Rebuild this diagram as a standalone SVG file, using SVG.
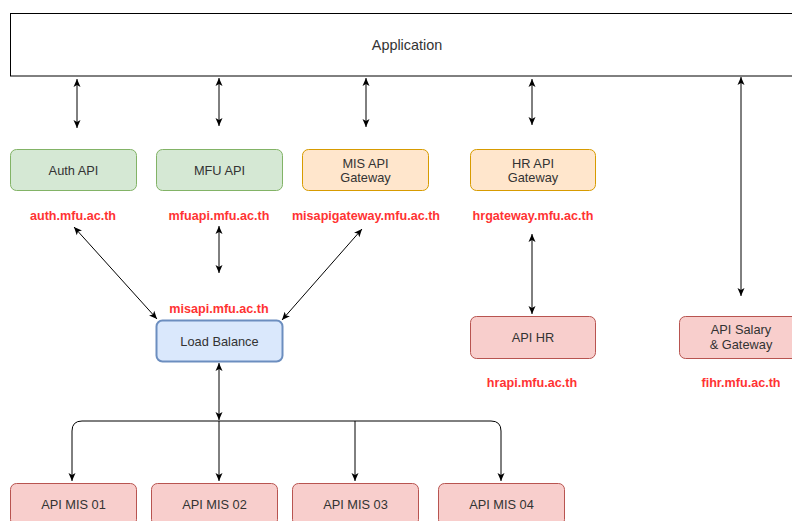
<svg xmlns="http://www.w3.org/2000/svg" width="792" height="521" viewBox="0 0 792 521">
<style>
  .node text, text { font-family: "Liberation Sans", Arial, sans-serif; }
  .lbl { font-size: 12.8px; fill: #333333; text-anchor: middle; }
  .app { font-size: 14.4px; }
  .url { font-size: 12.6px; font-weight: bold; fill: #FF3333; text-anchor: middle; }
  .green { fill: #d5e8d4; stroke: #82b366; stroke-width: 1; }
  .orange { fill: #ffe6cc; stroke: #d79b00; stroke-width: 1; }
  .red { fill: #f8cecc; stroke: #b85450; stroke-width: 1; }
  .blue { fill: #dae8fc; stroke: #6c8ebf; stroke-width: 2; }
  .edge { fill: none; stroke: #000000; stroke-width: 1; }
</style>
<defs>
  <marker id="ah" markerUnits="userSpaceOnUse" markerWidth="10" markerHeight="10" viewBox="0 0 10 10" refX="9" refY="5" orient="auto-start-reverse">
    <path d="M1,1.5 L9,5 L1,8.5 L3,5 Z" fill="#000"/>
  </marker>
</defs>
<rect width="792" height="521" fill="#ffffff"/>

<g id="application" class="node">
  <rect x="10.5" y="13.5" width="793" height="62.5" fill="#ffffff" stroke="#000000" stroke-width="1"/>
  <text class="lbl app" x="407" y="50">Application</text>
</g>

<g id="connectors">
  <line class="edge" x1="77" y1="79" x2="77" y2="128" marker-start="url(#ah)" marker-end="url(#ah)"/>
  <line class="edge" x1="219" y1="78" x2="219" y2="126" marker-start="url(#ah)" marker-end="url(#ah)"/>
  <line class="edge" x1="366" y1="78" x2="366" y2="127" marker-start="url(#ah)" marker-end="url(#ah)"/>
  <line class="edge" x1="532" y1="79" x2="532" y2="125" marker-start="url(#ah)" marker-end="url(#ah)"/>
  <line class="edge" x1="741" y1="77" x2="741" y2="296" marker-start="url(#ah)" marker-end="url(#ah)"/>
  <line class="edge" x1="74" y1="227" x2="157" y2="319" marker-start="url(#ah)" marker-end="url(#ah)"/>
  <line class="edge" x1="219" y1="226" x2="219" y2="273" marker-start="url(#ah)" marker-end="url(#ah)"/>
  <line class="edge" x1="362" y1="229" x2="282" y2="320" marker-start="url(#ah)" marker-end="url(#ah)"/>
  <line class="edge" x1="532" y1="234" x2="532" y2="314" marker-start="url(#ah)" marker-end="url(#ah)"/>
  <line class="edge" x1="219" y1="363" x2="219" y2="420" marker-start="url(#ah)" marker-end="url(#ah)"/>
  <path class="edge" stroke="#555" d="M219,421 H82 Q72,421 72,431 V481" marker-end="url(#ah)"/>
  <path class="edge" stroke="#555" d="M219,421 H491 Q501,421 501,431 V481" marker-end="url(#ah)"/>
  <line class="edge" x1="219" y1="421" x2="219" y2="481" marker-end="url(#ah)"/>
  <line class="edge" x1="355" y1="421" x2="355" y2="481" marker-end="url(#ah)"/>
</g>

<g id="auth-api" class="node">
  <rect class="green" x="10.5" y="149.5" width="126" height="41" rx="6"/>
  <text class="lbl" x="73.5" y="174.5">Auth API</text>
</g>
<g id="mfu-api" class="node">
  <rect class="green" x="156.5" y="149.5" width="126" height="41" rx="6"/>
  <text class="lbl" x="219.5" y="174.5">MFU API</text>
</g>
<g id="mis-api-gateway" class="node">
  <rect class="orange" x="302.5" y="149.5" width="126" height="41" rx="6"/>
  <text class="lbl" x="365.5" y="167.5">MIS API</text>
  <text class="lbl" x="365.5" y="182">Gateway</text>
</g>
<g id="hr-api-gateway" class="node">
  <rect class="orange" x="470.5" y="149.5" width="125" height="41" rx="6"/>
  <text class="lbl" x="533" y="167.5">HR API</text>
  <text class="lbl" x="533" y="182">Gateway</text>
</g>

<g id="url-labels">
  <text class="url" x="73" y="219.5">auth.mfu.ac.th</text>
  <text class="url" x="219" y="219.5">mfuapi.mfu.ac.th</text>
  <text class="url" x="366" y="219.5">misapigateway.mfu.ac.th</text>
  <text class="url" x="533" y="219.5">hrgateway.mfu.ac.th</text>
  <text class="url" x="219" y="312.5">misapi.mfu.ac.th</text>
  <text class="url" x="532" y="386.5">hrapi.mfu.ac.th</text>
  <text class="url" x="741" y="386.5">fihr.mfu.ac.th</text>
</g>

<g id="load-balance" class="node">
  <rect class="blue" x="156.5" y="320.5" width="126" height="41" rx="6"/>
  <text class="lbl" x="219.5" y="345.5">Load Balance</text>
</g>
<g id="api-hr" class="node">
  <rect class="red" x="470.5" y="316.5" width="125" height="42" rx="6"/>
  <text class="lbl" x="533" y="341.5">API HR</text>
</g>
<g id="api-salary" class="node">
  <rect class="red" x="679.5" y="316.5" width="126" height="42" rx="6"/>
  <text class="lbl" x="741" y="334">API Salary</text>
  <text class="lbl" x="741" y="348.5">&amp; Gateway</text>
</g>
<g id="api-mis-01" class="node">
  <rect class="red" x="10.5" y="483.5" width="126" height="42" rx="6"/>
  <text class="lbl" x="73.5" y="508.5">API MIS 01</text>
</g>
<g id="api-mis-02" class="node">
  <rect class="red" x="151.5" y="483.5" width="126" height="42" rx="6"/>
  <text class="lbl" x="214.5" y="508.5">API MIS 02</text>
</g>
<g id="api-mis-03" class="node">
  <rect class="red" x="292.5" y="483.5" width="126" height="42" rx="6"/>
  <text class="lbl" x="355.5" y="508.5">API MIS 03</text>
</g>
<g id="api-mis-04" class="node">
  <rect class="red" x="438.5" y="483.5" width="126" height="42" rx="6"/>
  <text class="lbl" x="501.5" y="508.5">API MIS 04</text>
</g>
</svg>
